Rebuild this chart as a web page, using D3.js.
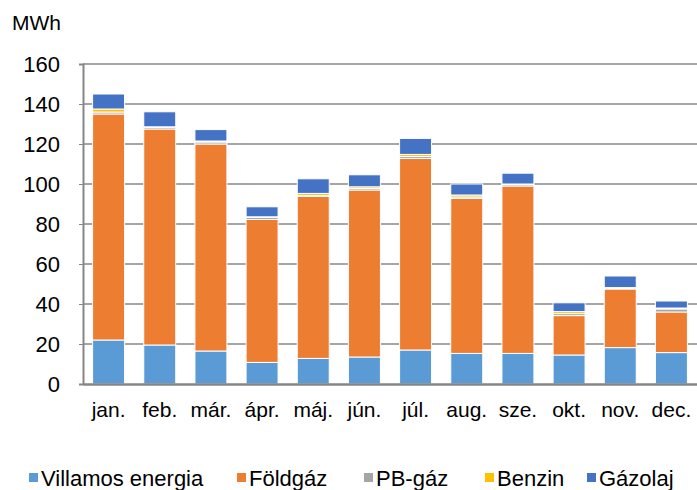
<!DOCTYPE html>
<html>
<head>
<meta charset="utf-8">
<script src="https://cdn.jsdelivr.net/npm/d3@7"></script>
<style>
  body { margin: 0; background: #fff; }
  svg { font-family: "Liberation Sans", Arial, sans-serif; }
</style>
</head>
<body>
<div id="chart"></div>
<script>
// --- data ---
const months = ["jan.", "feb.", "már.", "ápr.", "máj.", "jún.", "júl.", "aug.", "sze.", "okt.", "nov.", "dec."];
const seriesNames = ["Villamos energia", "Földgáz", "PB-gáz", "Benzin", "Gázolaj"];
const villamos = [22, 19.5, 16.5, 10.8, 12.8, 13.5, 17, 15.3, 15.3, 14.5, 18.2, 15.7];
const foldgaz  = [113, 108, 103.5, 71.5, 81, 83.5, 95.8, 77.5, 83.7, 19.7, 29.3, 20.3];
const pbgaz    = [1, 0.8, 1, 1, 0.5, 0.8, 1, 0.7, 0.7, 1, 0.4, 1.5];
const benzin   = [1.5, 0.3, 0.5, 0.3, 1, 0.8, 1, 1, 0.3, 1, 0.3, 0.5];
const gazolaj  = [7.5, 7.5, 5.7, 5, 7.3, 6, 8, 5.5, 5.4, 4.4, 5.8, 3.5];
const yTicks = [0, 20, 40, 60, 80, 100, 120, 140, 160];
const colors = ["#5B9BD5", "#ED7D31", "#A5A5A5", "#FFC000", "#4472C4"];

const W = 697, H = 490;
const margin = { top: 64, right: 0, bottom: 106, left: 83 };
const FS = 21;
const svg = d3.select("#chart").append("svg").attr("width", W).attr("height", H);

const rows = months.map((m, i) => ({
  month: m, v0: villamos[i], v1: foldgaz[i], v2: pbgaz[i], v3: benzin[i], v4: gazolaj[i]
}));
const stack = d3.stack().keys(["v0", "v1", "v2", "v3", "v4"])(rows);

const x = d3.scaleBand().domain(months).range([margin.left, W - margin.right])
  .paddingInner(0.375).paddingOuter(0.1875);
const y = d3.scaleLinear().domain([0, 160]).range([H - margin.bottom, margin.top]);

// gridlines
svg.append("g").selectAll("line").data(yTicks.slice(1)).join("line")
  .attr("x1", margin.left).attr("x2", W - margin.right)
  .attr("y1", d => y(d)).attr("y2", d => y(d))
  .attr("stroke", "#a6a6a6").attr("stroke-width", 2);

// bars
svg.append("g").selectAll("g").data(stack).join("g")
  .attr("fill", (d, i) => colors[i])
  .selectAll("rect").data(d => d).join("rect")
  .attr("x", d => x(d.data.month))
  .attr("width", x.bandwidth())
  .attr("y", d => y(d[1]))
  .attr("height", d => y(d[0]) - y(d[1]))
  .attr("stroke", "#fff").attr("stroke-width", 1);

// y axis
const yAxis = svg.append("g").attr("transform", `translate(${margin.left},0)`)
  .call(d3.axisLeft(y).tickValues(yTicks).tickSize(4).tickPadding(19));
yAxis.select(".domain").attr("stroke", "#868686").attr("stroke-width", 2);
yAxis.selectAll(".tick line").attr("stroke", "#868686").attr("stroke-width", 1);
yAxis.selectAll(".tick text").attr("font-size", 22).attr("fill", "#000")
  .attr("font-family", "Liberation Sans, Arial, sans-serif");

// x axis
const xAxis = svg.append("g").attr("transform", `translate(0,${H - margin.bottom})`)
  .call(d3.axisBottom(x).tickSize(0).tickPadding(18));
xAxis.select(".domain").attr("stroke", "#868686").attr("stroke-width", 2.5);
xAxis.selectAll(".tick text").attr("font-size", FS).attr("fill", "#000")
  .attr("font-family", "Liberation Sans, Arial, sans-serif");

// unit label
svg.append("text").attr("x", 12).attr("y", 30).attr("font-size", FS).text("MWh");

// legend
const legendX = [29, 237, 364, 485, 587];
const legend = svg.append("g").selectAll("g").data(seriesNames).join("g")
  .attr("transform", (d, i) => `translate(${legendX[i]},478)`);
legend.append("rect").attr("x", 0).attr("y", -5).attr("width", 9).attr("height", 9)
  .attr("fill", (d, i) => colors[i]);
legend.append("text").attr("x", 12).attr("y", 8).attr("font-size", 22).text(d => d);
</script>
</body>
</html>
